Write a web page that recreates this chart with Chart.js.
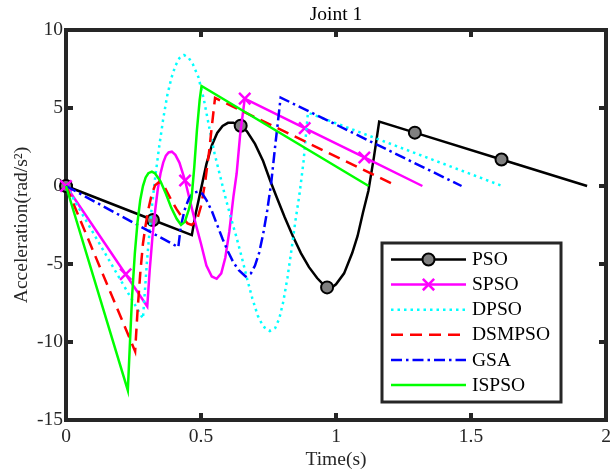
<!DOCTYPE html>
<html><head><meta charset="utf-8">
<script src="https://cdn.jsdelivr.net/npm/chart.js"></script>
<style>html,body{margin:0;padding:0;background:#fff;}canvas{display:block;}</style>
</head><body>
<canvas id="c" width="610" height="474"></canvas>
<script>
// ---------- data ----------
const xTicks = [0, 0.5, 1, 1.5, 2];
const yTicks = [-15, -10, -5, 0, 5, 10];

const psoT = [0, 0.322, 0.466, 0.48, 0.50, 0.52, 0.54, 0.56, 0.58, 0.60, 0.62, 0.647, 0.67, 0.70, 0.73, 0.755, 0.78, 0.81, 0.84, 0.87, 0.90, 0.93, 0.955, 0.967, 0.985, 1.0, 1.03, 1.06, 1.08, 1.10, 1.12, 1.14, 1.16, 1.292, 1.613, 1.93];
const psoY = [0, -2.18, -3.15, -1.8, -0.2, 1.4, 2.6, 3.4, 3.85, 4.05, 4.05, 3.86, 3.5, 2.7, 1.6, 0.4, -0.7, -2.0, -3.2, -4.3, -5.2, -5.9, -6.35, -6.5, -6.5, -6.3, -5.6, -4.3, -3.2, -1.7, -0.3, 1.8, 4.13, 3.42, 1.70, 0];
const psoMarkT = [0, 0.322, 0.647, 0.967, 1.292, 1.613];

const spsoT = [0, 0.221, 0.301, 0.31, 0.32, 0.33, 0.34, 0.35, 0.36, 0.37, 0.38, 0.392, 0.405, 0.42, 0.441, 0.46, 0.48, 0.50, 0.52, 0.54, 0.558, 0.575, 0.59, 0.605, 0.62, 0.632, 0.645, 0.662, 0.884, 1.105, 1.32];
const spsoY = [0, -5.66, -7.72, -5.4, -3.3, -1.6, -0.2, 0.8, 1.5, 1.95, 2.15, 2.2, 2.0, 1.5, 0.35, -1.0, -2.4, -3.7, -5.1, -5.8, -5.95, -5.6, -4.6, -2.9, -0.7, 0.8, 3.3, 5.6, 3.71, 1.83, 0];
const spsoMarkT = [0, 0.221, 0.441, 0.662, 0.884, 1.105];

const dpsoT = [0, 0.285, 0.30, 0.315, 0.33, 0.345, 0.36, 0.375, 0.39, 0.405, 0.42, 0.437, 0.455, 0.47, 0.49, 0.51, 0.53, 0.55, 0.57, 0.59, 0.61, 0.63, 0.65, 0.67, 0.69, 0.71, 0.73, 0.755, 0.775, 0.79, 0.805, 0.82, 0.835, 0.85, 0.865, 0.88, 0.896, 1.616];
const dpsoY = [0, -8.5, -4.8, -1.8, 0.5, 2.5, 4.3, 5.8, 6.9, 7.7, 8.2, 8.4, 8.2, 7.8, 7.0, 5.6, 3.8, 2.1, 0.7, -0.7, -2.0, -3.2, -4.5, -5.9, -7.2, -8.3, -9.0, -9.3, -9.1, -8.5, -7.4, -5.9, -4.1, -2.2, -0.5, 1.6, 4.7, 0];

const dsmT = [0, 0.256, 0.265, 0.275, 0.285, 0.295, 0.305, 0.318, 0.33, 0.345, 0.36, 0.375, 0.39, 0.41, 0.43, 0.45, 0.466, 0.485, 0.50, 0.515, 0.53, 0.54, 0.552, 1.225];
const dsmY = [0, -10.6, -8.0, -5.6, -3.7, -2.5, -1.5, -0.5, 0.05, 0.25, 0.1, -0.4, -0.9, -1.5, -2.0, -2.4, -2.5, -2.2, -1.3, 0.2, 2.2, 3.8, 5.65, 0];

const gsaT = [0, 0.416, 0.425, 0.44, 0.455, 0.47, 0.49, 0.505, 0.52, 0.54, 0.56, 0.58, 0.60, 0.62, 0.64, 0.665, 0.685, 0.70, 0.715, 0.73, 0.745, 0.76, 0.775, 0.795, 1.465];
const gsaY = [0, -3.92, -2.6, -1.5, -0.8, -0.45, -0.35, -0.5, -0.9, -1.6, -2.5, -3.4, -4.2, -4.9, -5.4, -5.8, -5.6, -5.1, -4.3, -3.1, -1.6, 0.2, 2.6, 5.67, 0];

const ispsoT = [0, 0.229, 0.237, 0.245, 0.255, 0.265, 0.275, 0.285, 0.295, 0.305, 0.318, 0.33, 0.35, 0.37, 0.39, 0.41, 0.426, 0.44, 0.455, 0.465, 0.475, 0.485, 0.495, 0.502, 1.121];
const ispsoY = [0, -13.1, -10.0, -7.0, -4.3, -2.3, -0.9, 0.0, 0.55, 0.82, 0.92, 0.8, 0.3, -0.5, -1.4, -2.1, -2.5, -2.3, -1.5, -0.8, 1.2, 3.6, 5.5, 6.41, 0];

const seriesNames = ['PSO', 'SPSO', 'DPSO', 'DSMPSO', 'GSA', 'ISPSO'];

// ---------- styling ----------
const FONT = "'Liberation Serif','Times New Roman',serif";
const AX = '#262626';
const FS = 19.5;

function pts(t, y) { return t.map((v, i) => ({x: v, y: y[i]})); }
function markR(list, r) { return c => (c.raw && list.includes(c.raw.x)) ? r : 0; }

const base = {fill: false, tension: 0, borderWidth: 2.5, pointRadius: 0, pointHoverRadius: 0, clip: false, borderCapStyle: 'butt'};

const datasets = [
  Object.assign({}, base, {label: seriesNames[0], data: pts(psoT, psoY), borderColor: '#000000',
    pointStyle: 'circle', pointRadius: markR(psoMarkT, 6), pointHoverRadius: markR(psoMarkT, 6),
    pointBackgroundColor: '#808080', pointBorderColor: '#000000', pointBorderWidth: 2, order: 6, _marker: 'circle'}),
  Object.assign({}, base, {label: seriesNames[1], data: pts(spsoT, spsoY), borderColor: '#FF00FF',
    pointStyle: 'crossRot', pointRadius: markR(spsoMarkT, 8), pointHoverRadius: markR(spsoMarkT, 8),
    pointBorderColor: '#FF00FF', pointBackgroundColor: '#FF00FF', pointBorderWidth: 2.5, order: 5, _marker: 'x'}),
  Object.assign({}, base, {label: seriesNames[2], data: pts(dpsoT, dpsoY), borderColor: '#00FFFF', borderDash: [2.5, 4], order: 4}),
  Object.assign({}, base, {label: seriesNames[3], data: pts(dsmT, dsmY), borderColor: '#FF0000', borderDash: [12, 7], order: 3}),
  Object.assign({}, base, {label: seriesNames[4], data: pts(gsaT, gsaY), borderColor: '#0000FF', borderDash: [11, 4, 2.5, 4], order: 2}),
  Object.assign({}, base, {label: seriesNames[5], data: pts(ispsoT, ispsoY), borderColor: '#00FF00', order: 1})
];

const framePlugin = {
  id: 'frame',
  beforeDatasetsDraw(chart) {
    const {ctx, chartArea: a, scales} = chart;
    ctx.save();
    ctx.strokeStyle = AX; ctx.lineWidth = 4; ctx.lineCap = 'butt';
    const L = (x1, y1, x2, y2) => { ctx.beginPath(); ctx.moveTo(x1, y1); ctx.lineTo(x2, y2); ctx.stroke(); };
    xTicks.forEach(v => { const p = scales.x.getPixelForValue(v); L(p, a.bottom, p, a.bottom - 7); L(p, a.top, p, a.top + 7); });
    yTicks.forEach(v => { const p = scales.y.getPixelForValue(v); L(a.left, p, a.left + 7, p); L(a.right, p, a.right - 7, p); });
    ctx.strokeRect(a.left, a.top, a.right - a.left, a.bottom - a.top);
    ctx.restore();
  },
  afterDatasetsDraw(chart) {
    const {ctx, chartArea: a} = chart;
    const bx = a.right - 224, by = a.bottom - 177, bw = 179, bh = 159;
    ctx.save();
    ctx.fillStyle = '#ffffff';
    ctx.fillRect(bx, by, bw, bh);
    ctx.strokeStyle = AX; ctx.lineWidth = 3;
    ctx.strokeRect(bx, by, bw, bh);
    chart.data.datasets.forEach((ds, i) => {
      const y = by + 16.5 + i * 25.1;
      const x1 = bx + 9, x2 = bx + 84, xm = (x1 + x2) / 2;
      ctx.strokeStyle = ds.borderColor; ctx.lineWidth = ds.borderWidth;
      ctx.setLineDash(ds.borderDash || []);
      ctx.beginPath(); ctx.moveTo(x1, y); ctx.lineTo(x2, y); ctx.stroke();
      ctx.setLineDash([]);
      if (ds._marker === 'circle') {
        ctx.beginPath(); ctx.arc(xm, y, 6, 0, Math.PI * 2);
        ctx.fillStyle = '#808080'; ctx.fill();
        ctx.lineWidth = 2; ctx.strokeStyle = '#000'; ctx.stroke();
      } else if (ds._marker === 'x') {
        const r = 8 * Math.SQRT1_2;
        ctx.lineWidth = 2.5; ctx.strokeStyle = ds.borderColor;
        ctx.beginPath(); ctx.moveTo(xm - r, y - r); ctx.lineTo(xm + r, y + r);
        ctx.moveTo(xm - r, y + r); ctx.lineTo(xm + r, y - r); ctx.stroke();
      }
      ctx.fillStyle = '#000';
      ctx.font = FS + 'px ' + FONT;
      ctx.textAlign = 'left'; ctx.textBaseline = 'middle';
      ctx.fillText(ds.label, bx + 90, y + 0.5);
    });
    ctx.restore();
  }
};

const tickFont = {family: FONT, size: FS};

function noPad(s) { s.paddingLeft = 0; s.paddingRight = 0; }

new Chart(document.getElementById('c'), {
  type: 'line',
  data: {datasets},
  options: {
    responsive: false, animation: false, devicePixelRatio: 1,
    layout: {autoPadding: false, padding: {left: 0, right: 4, top: 0, bottom: 0}},
    plugins: {legend: {display: false}, title: {display: false}, tooltip: {enabled: false}},
    events: [],
    scales: {
      x: {
        type: 'linear', position: 'bottom', min: 0, max: 2,
        afterBuildTicks: s => { s.ticks = xTicks.map(v => ({value: v})); },
        ticks: {font: tickFont, color: AX, padding: 5, maxRotation: 0, autoSkip: false, callback: v => String(v)},
        grid: {display: false, drawTicks: false}, border: {display: false},
        title: {display: true, text: 'Time(s)', font: tickFont, color: AX, padding: {top: 0, bottom: 2}},
        afterFit: s => { s.height = 54; noPad(s); }
      },
      x2: {
        type: 'linear', position: 'top', min: 0, max: 2,
        ticks: {display: false}, grid: {display: false, drawTicks: false}, border: {display: false},
        title: {display: true, text: 'Joint 1', font: tickFont, color: '#000', padding: {top: 3.4, bottom: 0}},
        afterFit: s => { s.height = 30; noPad(s); }
      },
      y: {
        type: 'linear', position: 'left', min: -15, max: 10,
        afterBuildTicks: s => { s.ticks = yTicks.map(v => ({value: v})); },
        ticks: {font: tickFont, color: AX, padding: 3, autoSkip: false, callback: v => String(v)},
        grid: {display: false, drawTicks: false}, border: {display: false},
        title: {display: true, text: 'Acceleration(rad/s²)', font: tickFont, color: AX, padding: {top: 10, bottom: 0}},
        afterFit: s => { s.width = 66; s.paddingTop = 0; s.paddingBottom = 0; }
      }
    }
  },
  plugins: [framePlugin]
});
</script>
</body></html>
